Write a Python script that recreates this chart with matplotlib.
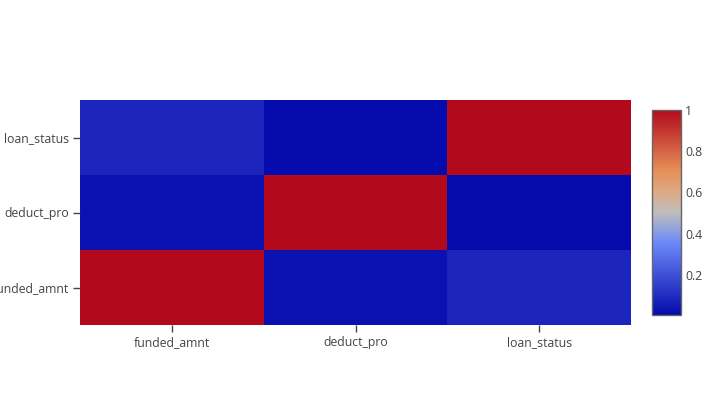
import matplotlib
matplotlib.use("Agg")
import matplotlib.pyplot as plt
import numpy as np
from matplotlib.colors import LinearSegmentedColormap

# correlation matrix, rows bottom -> top
labels = ["funded_amnt", "deduct_pro", "loan_status"]
z = np.array([
    [1.0, 0.025, 0.08],
    [0.025, 1.0, 0.005],
    [0.08, 0.005, 1.0],
])
cbar_ticks = [0.2, 0.4, 0.6, 0.8, 1]

# plotly "RdBu" scale
stops = [
    (0.0, (5, 10, 172)),
    (0.35, (106, 137, 247)),
    (0.5, (190, 190, 190)),
    (0.6, (220, 170, 132)),
    (0.7, (230, 145, 90)),
    (1.0, (178, 10, 28)),
]
cmap = LinearSegmentedColormap.from_list(
    "plotly_rdbu", [(p, tuple(c / 255 for c in rgb)) for p, rgb in stops])

plt.rcParams["font.family"] = ["Open Sans", "DejaVu Sans"]
W, H = 722, 405
fig = plt.figure(figsize=(W / 100, H / 100), dpi=100)

ax = fig.add_axes([80 / W, 1 - 325 / H, 551 / W, 225 / H])
zmin, zmax = z.min(), z.max()
mesh = ax.pcolormesh(np.arange(4) - 0.5, np.arange(4) - 0.5, z,
                     cmap=cmap, vmin=zmin, vmax=zmax)
ax.set_xlim(-0.5, 2.5)
ax.set_ylim(-0.5, 2.5)
ax.set_xticks(range(3))
ax.set_xticklabels(labels)
ax.set_yticks(range(3))
ax.set_yticklabels(labels)
ax.tick_params(length=5, width=1, color="#444444", labelcolor="#444444",
               labelsize=8.8, pad=3)
for s in ax.spines.values():
    s.set_visible(False)

cax = fig.add_axes([652 / W, 1 - 315 / H, 29 / W, 205 / H])
cb = fig.colorbar(mesh, cax=cax)
cb.set_ticks(cbar_ticks)
cb.set_ticklabels(["0.2", "0.4", "0.6", "0.8", "1"])
cb.outline.set_edgecolor("#666666")
cb.outline.set_linewidth(1)
cax.tick_params(length=0, labelcolor="#444444", labelsize=8.8, pad=3)

fig.savefig("out.png", dpi=100, facecolor="white")
